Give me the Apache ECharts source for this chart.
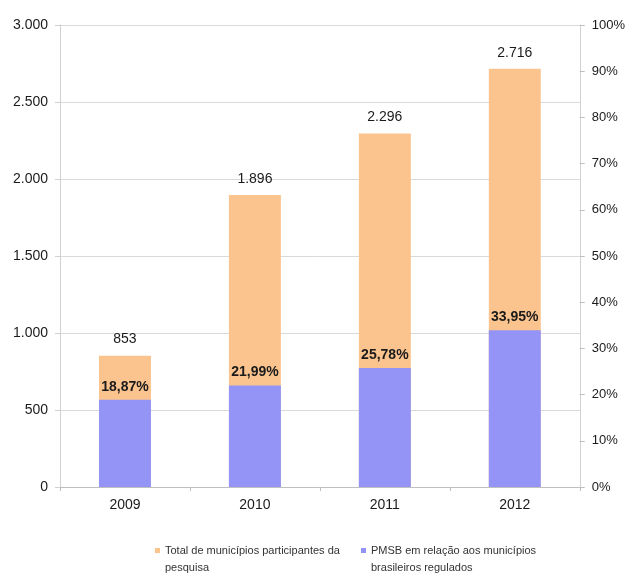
<!DOCTYPE html>
<html>
<head>
<meta charset="utf-8">
<script src="https://cdn.jsdelivr.net/npm/echarts@6/dist/echarts.min.js"></script>
<style>
  html, body { margin: 0; padding: 0; background: #fff; }
  #chart { width: 628px; height: 586px; }
</style>
</head>
<body>
<div id="chart"></div>
<script>
const years = ['2009', '2010', '2011', '2012'];
const totalMunicipios = [853, 1896, 2296, 2716];
const pmsbPercent = [18.87, 21.99, 25.78, 33.95];
const totalName = 'Total de municípios participantes da\npesquisa';
const pmsbName = 'PMSB em relação aos municípios\nbrasileiros regulados';

const orange = '#FBC48F';
const purple = '#9494F7';
const font = 'Liberation Sans, Arial, sans-serif';
const textColor = '#1a1a1a';

const fmtThousands = (v) => String(v).replace(/\B(?=(\d{3})+(?!\d))/g, '.');
const fmtPercent = (v) => v.toFixed(2).replace('.', ',') + '%';

const chart = echarts.init(document.getElementById('chart'));

// an empty first line keeps the square level with the first text line
const legendBase = {
  orient: 'horizontal',
  itemWidth: 5,
  itemHeight: 5,
  icon: 'rect',
  formatter: (name) => ' \n' + name,
  textStyle: {
    fontFamily: font,
    fontSize: 11,
    color: '#333',
    lineHeight: 17,
  },
};

chart.setOption({
  animation: false,
  grid: { left: 60, right: 46, top: 25, bottom: 99, containLabel: false },
  legend: [
    Object.assign({ data: [totalName], left: 150, top: 520 }, legendBase),
    Object.assign({ data: [pmsbName], left: 356, top: 520 }, legendBase),
  ],
  xAxis: {
    type: 'category',
    data: years,
    axisLine: { lineStyle: { color: '#bfbfbf' } },
    axisTick: { show: true, length: 4, lineStyle: { color: '#bfbfbf' } },
    axisLabel: { fontFamily: font, fontSize: 14, color: textColor, margin: 11 },
  },
  yAxis: [
    {
      type: 'value',
      min: 0,
      max: 3000,
      interval: 500,
      axisLine: { show: true, lineStyle: { color: '#d0d0d0' } },
      axisTick: { show: true, length: 5, lineStyle: { color: '#d0d0d0' } },
      splitLine: { lineStyle: { color: '#d9d9d9' } },
      axisLabel: { fontFamily: font, fontSize: 14, color: textColor, margin: 12, formatter: fmtThousands },
    },
    {
      type: 'value',
      min: 0,
      max: 100,
      interval: 10,
      position: 'right',
      axisLine: { show: true, lineStyle: { color: '#d0d0d0' } },
      axisTick: { show: true, length: 5, lineStyle: { color: '#bfbfbf' } },
      splitLine: { show: false },
      axisLabel: { fontFamily: font, fontSize: 13, color: textColor, margin: 12, formatter: '{value}%' },
    },
  ],
  series: [
    {
      name: totalName,
      type: 'bar',
      data: totalMunicipios,
      barWidth: '40%',
      barGap: '-100%',
      itemStyle: { color: orange },
      label: {
        show: true,
        position: 'top',
        distance: 9,
        fontFamily: font,
        fontSize: 14,
        color: textColor,
        formatter: (p) => fmtThousands(p.value),
      },
    },
    {
      name: pmsbName,
      type: 'bar',
      yAxisIndex: 1,
      data: pmsbPercent,
      barWidth: '40%',
      barGap: '-100%',
      itemStyle: { color: purple },
      label: {
        show: true,
        position: 'top',
        distance: 6,
        fontFamily: font,
        fontSize: 14,
        fontWeight: 'bold',
        color: textColor,
        formatter: (p) => fmtPercent(p.value),
      },
    },
  ],
});
</script>
</body>
</html>
